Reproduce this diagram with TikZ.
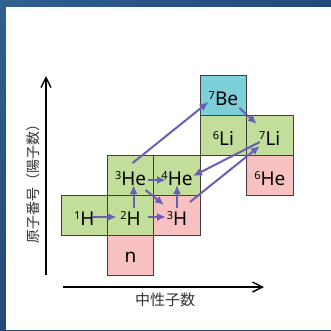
\documentclass[tikz,border=0pt]{standalone}
\usepackage{fontspec}
\setmainfont{Noto Sans}
\newfontfamily\jpfont{Noto Sans CJK JP}
\usetikzlibrary{arrows.meta,positioning,shadings}
\definecolor{cellgreen}{HTML}{C3DE9B}
\definecolor{cellpink}{HTML}{F8C1C1}
\definecolor{cellcyan}{HTML}{7DCFD9}
\definecolor{flowpurple}{HTML}{6A5FB5}
\definecolor{framedark}{HTML}{22497A}
\definecolor{framelight}{HTML}{30608F}
\newcommand{\iso}[2]{\raisebox{6pt}{\fontsize{11}{11}\selectfont#1}#2}

\begin{document}
\begin{tikzpicture}[x=1pt, y=-1pt,
  cell/.style={draw=black!75, line width=0.9pt, minimum width=46.4pt, minimum height=40pt, inner sep=0pt, outer sep=0pt, text height=20pt, text depth=0pt, font=\fontsize{19}{19}\selectfont},
  stable/.style={cell, fill=cellgreen},
  unstable/.style={cell, fill=cellpink},
  beryl/.style={cell, fill=cellcyan},
  flow/.style={-{Latex[length=9pt,width=8pt]}, line width=2pt, draw=flowpurple},
  axis/.style={-{Straight Barb[length=10pt,width=10pt]}, line width=1.4pt},
  axislabel/.style={font=\jpfont\fontsize{14}{14}\selectfont, text=black!80}
]
% frame
\shade[upper left=framelight, upper right=framedark, lower left=framedark, lower right=framedark] (0,0) rectangle (331,330);
\fill[white] (6,7) rectangle (331,330);
\useasboundingbox (0,0) rectangle (331,330);

% nuclide cells
\node[stable] (h1) at (84.2,215) {\iso{1}{H}};
\node[stable, right=0pt of h1] (h2) {\iso{2}{H}};
\node[unstable, right=0pt of h2] (h3) {\iso{3}{H}};
\node[unstable, below=0pt of h2, text height=14pt] (n) {n};
\node[stable, above=0pt of h2] (he3) {\iso{3}{He}};
\node[stable, above=0pt of h3] (he4) {\iso{4}{He}};
\node[stable, above right=0pt and 0pt of he4] (li6) {\iso{6}{Li}};
\node[stable, right=0pt of li6] (li7) {\iso{7}{Li}};
\node[beryl, above=0pt of li6] (be7) {\iso{7}{Be}};
\node[unstable, below=0pt of li7] (he6) {\iso{6}{He}};

% reactions
\draw[flow] ([shift={(8,2)}]h1.center) -- ([shift={(-14,2)}]h2.center);
\draw[flow] ([shift={(17,2)}]h2.center) -- ([shift={(-11,2)}]h3.center);
\draw[flow] ([shift={(3,-7)}]h2.center) -- ([shift={(3,10)}]he3.center);
\draw[flow] ([shift={(0,-7)}]h3.center) -- ([shift={(0,10)}]he4.center);
\draw[flow] ([shift={(17,5)}]he3.center) -- ([shift={(-11,5)}]he4.center);
\draw[flow] ([shift={(15,15)}]he3.center) -- ([shift={(-13,-10)}]h3.center);
\draw[flow] ([shift={(2,-12)}]he3.center) -- ([shift={(-15,7)}]be7.center);
\draw[flow] ([shift={(16,13)}]be7.center) -- ([shift={(-13,-11)}]li7.center);
\draw[flow] ([shift={(-10,7)}]li7.center) -- ([shift={(16,1)}]he4.center);
\draw[flow] ([shift={(13,-13)}]h3.center) -- ([shift={(-10,11)}]li7.center);

% axes
\coordinate (yfoot) at (46,275);
\coordinate (ytip) at (46,76);
\coordinate (xfoot) at (63,287);
\coordinate (xtip) at (264,287);
\draw[axis] (yfoot) -- (ytip);
\draw[axis] (xfoot) -- (xtip);
\node[axislabel, font=\jpfont\fontsize{15}{15}\selectfont] (nlabel) at (165,300) {中性子数};
\node[axislabel, rotate=90] (zlabel) at (33,180) {原子番号（陽子数）};
\end{tikzpicture}
\end{document}
